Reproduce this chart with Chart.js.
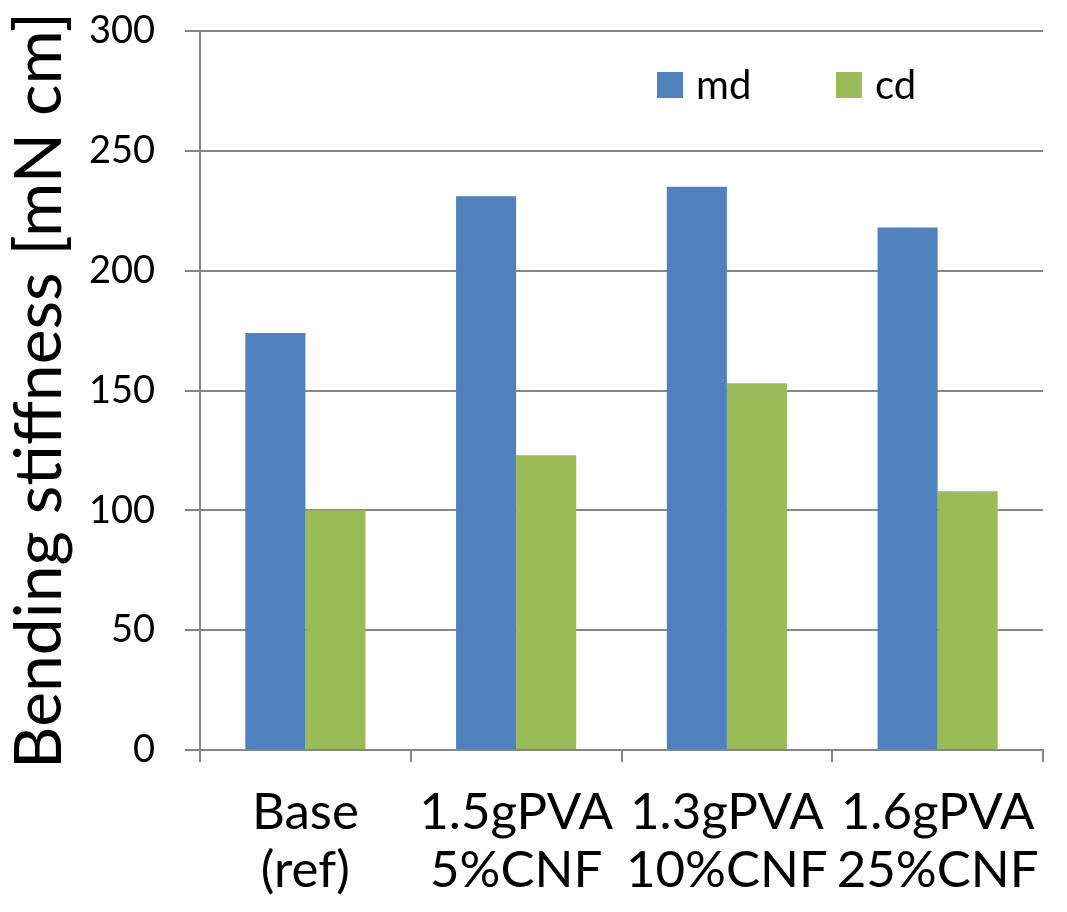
<!DOCTYPE html>
<html><head><meta charset="utf-8">
<script src="https://cdn.jsdelivr.net/npm/chart.js@4.4.0/dist/chart.umd.min.js"></script>
<style>html,body{margin:0;padding:0;background:#fff}</style>
</head><body>
<canvas id="c" width="1067" height="912"></canvas>
<script>
const categories = [["Base","(ref)"],["1.5gPVA","5%CNF"],["1.3gPVA","10%CNF"],["1.6gPVA","25%CNF"]];
const seriesNames = ["md","cd"];
const mdValues = [174, 231, 235, 218];
const cdValues = [100, 123, 153, 108];
const yMin = 0, yMax = 300, yStep = 50;
const yTitle = "Bending stiffness [mN cm]";
const colors = ["#4F81BD", "#9BBB59"];
const gridColor = "#868686";

Chart.defaults.font.family = "Lato, 'Open Sans', sans-serif";
Chart.defaults.color = "#000";

const legendPlugin = {
  id: 'insideLegend',
  afterDatasetsDraw(chart) {
    const ctx = chart.ctx;
    const a = chart.chartArea;
    const startX = [a.left + 457, a.left + 636];
    const boxTop = a.top + 41, box = 26;
    ctx.save();
    ctx.font = "40px Lato, sans-serif";
    ctx.textBaseline = "middle";
    chart.data.datasets.forEach((ds, i) => {
      ctx.fillStyle = ds.backgroundColor;
      ctx.fillRect(startX[i], boxTop, box, box);
      ctx.fillStyle = "#000";
      ctx.fillText(ds.label, startX[i] + box + 13, boxTop + box / 2 + 1);
    });
    ctx.restore();
  }
};

new Chart(document.getElementById('c'), {
  type: 'bar',
  data: {
    labels: categories,
    datasets: [
      { label: seriesNames[0], data: mdValues, backgroundColor: colors[0], categoryPercentage: 0.57, barPercentage: 1.0 },
      { label: seriesNames[1], data: cdValues, backgroundColor: colors[1], categoryPercentage: 0.57, barPercentage: 1.0 }
    ]
  },
  options: {
    responsive: false,
    animation: false,
    layout: { padding: { top: 31, right: 24, left: 0, bottom: 0 } },
    plugins: { legend: { display: false }, tooltip: { enabled: false } },
    scales: {
      x: {
        grid: { offset: true, drawOnChartArea: false, drawTicks: true, tickLength: 12, color: gridColor, lineWidth: 2 },
        border: { display: true, color: gridColor, width: 2 },
        ticks: { font: { size: 51, lineHeight: 1.15 }, color: '#000', padding: 21, maxRotation: 0, autoSkip: false },
        afterFit(s) { s.height = 162; s.paddingLeft = 0; s.paddingRight = 0; }
      },
      y: {
        min: yMin, max: yMax,
        ticks: { stepSize: yStep, font: { size: 38 }, color: '#000', padding: 30 },
        grid: { color: gridColor, lineWidth: 2, tickLength: 15 },
        border: { display: true, color: gridColor, width: 2 },
        title: { display: true, text: yTitle, font: { size: 66, lineHeight: 1.2 }, color: '#000', padding: { top: 0, bottom: 0 } },
        afterFit(s) { s.width = 200; s.paddingTop = 0; s.paddingBottom = 0; }
      }
    }
  },
  plugins: [legendPlugin]
});
</script>
</body></html>
